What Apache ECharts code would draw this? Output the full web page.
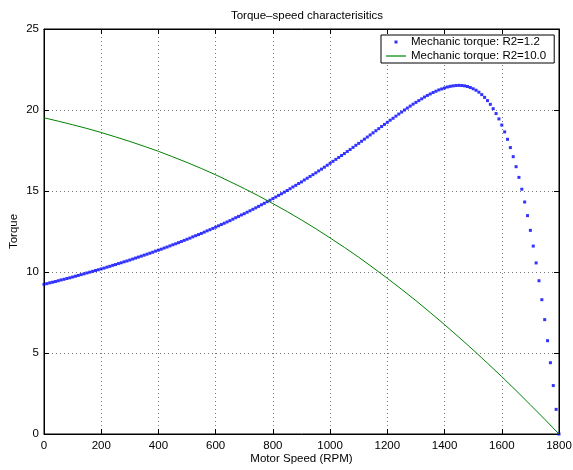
<!DOCTYPE html>
<html>
<head>
<meta charset="utf-8">
<script src="https://cdn.jsdelivr.net/npm/echarts@6/dist/echarts.min.js"></script>
<style>
html,body{margin:0;padding:0;background:#fff;}
#chart{width:573px;height:470px;}
</style>
</head>
<body>
<div id="chart"></div>
<script>
// ---- data ----
const titleText = 'Torque\u2013speed characterisitics';
const xAxisName = 'Motor Speed (RPM)';
const yAxisName = 'Torque';
const seriesNames = ['Mechanic torque: R2=1.2', 'Mechanic torque: R2=10.0'];

const xTicks = [0, 200, 400, 600, 800, 1000, 1200, 1400, 1600, 1800];
const yTicks = [0, 5, 10, 15, 20, 25];

// speeds (RPM) of the dotted R2=1.2 series
const speedR12 = [
  0,10,20,30,40,50,60,70,80,90,100,110,120,130,140,150,160,170,180,190,
  200,210,220,230,240,250,260,270,280,290,300,310,320,330,340,350,360,370,380,390,
  400,410,420,430,440,450,460,470,480,490,500,510,520,530,540,550,560,570,580,590,
  600,610,620,630,640,650,660,670,680,690,700,710,720,730,740,750,760,770,780,790,
  800,810,820,830,840,850,860,870,880,890,900,910,920,930,940,950,960,970,980,990,
  1000,1010,1020,1030,1040,1050,1060,1070,1080,1090,1100,1110,1120,1130,1140,1150,1160,1170,1180,1190,
  1200,1210,1220,1230,1240,1250,1260,1270,1280,1290,1300,1310,1320,1330,1340,1350,1360,1370,1380,1390,
  1400,1410,1420,1430,1440,1450,1460,1470,1480,1490,1500,1510,1520,1530,1540,1550,1560,1570,1580,1590,
  1600,1610,1620,1630,1640,1650,1660,1670,1680,1690,1700,1710,1720,1730,1740,1750,1760,1770,1780,1790,
  1800
];
const torqueR12 = [
  9.24,9.28,9.33,9.37,9.41, 9.46,9.51,9.55,9.60,9.64,
  9.69,9.74,9.79,9.84,9.89, 9.94,9.99,10.04,10.09,10.14,
  10.19,10.24,10.30,10.35,10.41, 10.46,10.52,10.57,10.63,10.68,
  10.74,10.80,10.86,10.92,10.98, 11.04,11.10,11.16,11.22,11.29,
  11.35,11.41,11.48,11.54,11.61, 11.68,11.74,11.81,11.88,11.95,
  12.02,12.09,12.17,12.24,12.31, 12.38,12.46,12.54,12.61,12.69,
  12.77,12.85,12.93,13.01,13.09, 13.17,13.26,13.35,13.43,13.52,
  13.60,13.69,13.78,13.87,13.96, 14.05,14.15,14.24,14.34,14.43,
  14.53,14.63,14.73,14.83,14.93, 15.03,15.14,15.25,15.35,15.46,
  15.56,15.68,15.79,15.90,16.01, 16.12,16.24,16.35,16.47,16.59,
  16.71,16.83,16.95,17.07,17.19, 17.31,17.44,17.56,17.69,17.82,
  17.94,18.07,18.20,18.33,18.46, 18.59,18.72,18.85,18.98,19.11,
  19.24,19.37,19.49,19.62,19.75, 19.87,20.00,20.12,20.24,20.36,
  20.47,20.58,20.69,20.80,20.90, 20.99,21.08,21.16,21.24,21.30,
  21.36,21.42,21.46,21.49,21.51, 21.52,21.51,21.49,21.45,21.39,
  21.31,21.22,21.10,20.95,20.78, 20.58,20.35,20.08,19.78,19.45,
  19.07,18.65,18.19,17.68,17.12, 16.50,15.84,15.11,14.32,13.48,
  12.57,11.60,10.56,9.46,8.29, 7.06,5.76,4.40,2.99,1.52,
  0
];

// speeds (RPM) and torque of the solid R2=10.0 series
const speedR10 = [
  0,50,100,150,200,250,300,350,400,450,500,550,600,650,700,750,800,850,900,950,
  1000,1050,1100,1150,1200,1250,1300,1350,1400,1450,1500,1550,1600,1650,1700,1750,1800
];
const torqueR10 = [
  19.52,19.31,19.09,18.86,18.61,18.34,18.06,17.76,17.45,17.11,
  16.76,16.39,16.00,15.58,15.15,14.70,14.22,13.73,13.21,12.67,
  12.10,11.52,10.91,10.27,9.61,8.93,8.23,7.50,6.75,5.98,
  5.19,4.37,3.54,2.68,1.80,0.91,0
];

// ---- build chart ----
const FONT = '"Liberation Sans", Arial, Helvetica, sans-serif';
const FS = 11.5;
const pairs = (xs, ys) => xs.map((x, i) => [x, ys[i]]);

const svgIcon = inner => 'image://data:image/svg+xml;charset=utf-8,' + encodeURIComponent(
  '<svg xmlns="http://www.w3.org/2000/svg" width="20" height="12" viewBox="0 0 20 12">' + inner + '</svg>');
const dotIcon = svgIcon('<rect x="8.5" y="4.5" width="3" height="3" fill="#0000ff"/>');
const lineIcon = svgIcon('<line x1="0" y1="6" x2="20" y2="6" stroke="#008000" stroke-width="1.2"/>');

const xMin = xTicks[0], xMax = xTicks[xTicks.length - 1], xStep = xTicks[1] - xTicks[0];
const yMin = yTicks[0], yMax = yTicks[yTicks.length - 1], yStep = yTicks[1] - yTicks[0];

const axisCommon = {
  axisLine: { show: true, onZero: false, lineStyle: { color: '#000', width: 1 } },
  axisTick: { show: true, inside: true, length: 5, lineStyle: { color: '#000', width: 1 } },
};

const chart = echarts.init(document.getElementById('chart'), null, { renderer: 'canvas' });
chart.setOption({
  animation: false,
  backgroundColor: '#fff',
  title: {
    text: titleText,
    left: 302, textAlign: 'center', top: 5,
    textStyle: { fontFamily: FONT, fontSize: FS, fontWeight: 'normal', color: '#000' }
  },
  grid: { left: 44, right: 14, top: 29, bottom: 36, containLabel: false,
          outerBoundsMode: 'none',
          show: true, borderColor: '#000', borderWidth: 1, backgroundColor: '#fff' },
  legend: {
    orient: 'vertical',
    left: 381, top: 35,
    padding: [1, 8, 1, 5],
    itemWidth: 20, itemHeight: 12, itemGap: 2,
    backgroundColor: '#fff', borderColor: '#000', borderWidth: 1, borderRadius: 0,
    textStyle: { fontFamily: FONT, fontSize: FS, color: '#000' },
    data: [
      { name: seriesNames[0], icon: dotIcon },
      { name: seriesNames[1], icon: lineIcon }
    ]
  },
  xAxis: [
    Object.assign({
      type: 'value', min: xMin, max: xMax, interval: xStep, position: 'bottom',
      name: xAxisName, nameLocation: 'middle', nameGap: 19, nameMoveOverlap: false,
      nameTextStyle: { fontFamily: FONT, fontSize: FS, color: '#000' },
      axisLabel: { margin: 6, fontFamily: FONT, fontSize: FS, color: '#000', formatter: v => String(v) },
      splitLine: { show: true, lineStyle: { color: '#777', width: 1, type: [1, 3] } }
    }, axisCommon),
    Object.assign({
      type: 'value', min: xMin, max: xMax, interval: xStep, position: 'top',
      axisLabel: { show: false }, splitLine: { show: false }
    }, axisCommon)
  ],
  yAxis: [
    Object.assign({
      type: 'value', min: yMin, max: yMax, interval: yStep, position: 'left',
      name: yAxisName, nameLocation: 'middle', nameGap: 24, nameRotate: 90, nameMoveOverlap: false,
      nameTextStyle: { fontFamily: FONT, fontSize: FS, color: '#000' },
      axisLabel: { margin: 5, fontFamily: FONT, fontSize: FS, color: '#000', formatter: v => String(v) },
      splitLine: { show: true, lineStyle: { color: '#777', width: 1, type: [1, 3] } }
    }, axisCommon),
    Object.assign({
      type: 'value', min: yMin, max: yMax, interval: yStep, position: 'right',
      axisLabel: { show: false }, splitLine: { show: false }
    }, axisCommon)
  ],
  series: [
    {
      name: seriesNames[0], type: 'scatter', xAxisIndex: 0, yAxisIndex: 0,
      symbol: 'rect', symbolSize: 3,
      itemStyle: { color: '#0000ff' },
      data: pairs(speedR12, torqueR12), z: 3
    },
    {
      name: seriesNames[1], type: 'line', xAxisIndex: 0, yAxisIndex: 0,
      symbol: 'none', smooth: false,
      lineStyle: { color: '#008000', width: 1 }, itemStyle: { color: '#008000' },
      data: pairs(speedR10, torqueR10), z: 4
    }
  ]
});
</script>
</body>
</html>
